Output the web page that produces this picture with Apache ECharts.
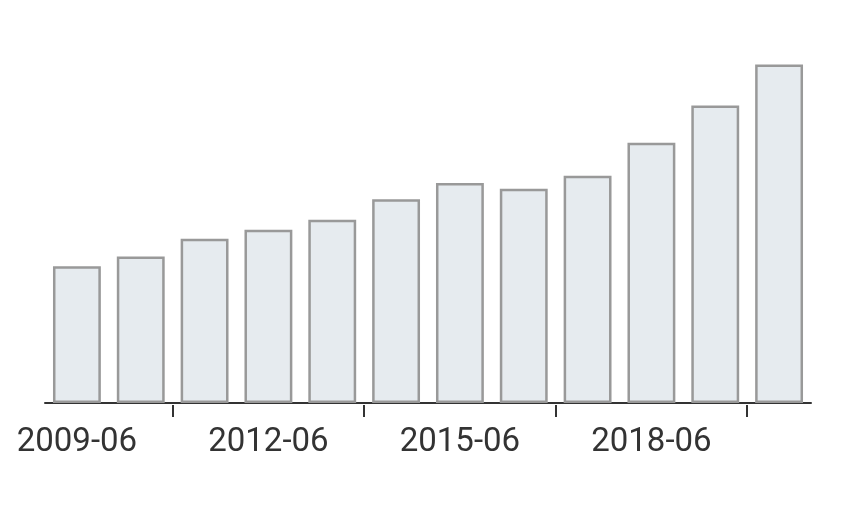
<!DOCTYPE html>
<html><head><meta charset="utf-8">
<script src="https://cdn.jsdelivr.net/npm/echarts@6/dist/echarts.min.js"></script>
<style>html,body{margin:0;padding:0;background:#fff}#c{width:856px;height:505px}</style>
</head><body><div id="c"></div>
<script>
const categories = ['2009-06','2010-06','2011-06','2012-06','2013-06','2014-06','2015-06','2016-06','2017-06','2018-06','2019-06','2020-06'];
const values = [40.4, 43.3, 48.5, 51.2, 54.1, 60.2, 65.0, 63.3, 67.1, 76.9, 87.9, 100];
// boundaries between bars (13 edges), used only for tick placement
const boundaries = ['b0','b1','b2','b3','b4','b5','b6','b7','b8','b9','b10','b11','b12'];

const chart = echarts.init(document.getElementById('c'), null, {renderer:'canvas'});
chart.setOption({
  animation: false,
  grid: {left: 45, right: 45, top: 64.5, bottom: 102, containLabel: false},
  xAxis: [{
    type: 'category', data: categories, offset: 2,
    axisLine: {lineStyle: {color: '#333', width: 2}},
    axisTick: {show: false},
    axisLabel: {interval: 2, color: '#333', fontSize: 33, fontFamily: 'Roboto', margin: 21}
  }, {
    type: 'category', data: boundaries, position: 'bottom', offset: 2, boundaryGap: false,
    axisLine: {show: false},
    axisLabel: {show: false},
    axisTick: {show: true, alignWithLabel: true, length: 12, lineStyle: {color: '#333', width: 2},
      interval: function (i) { return i % 3 === 2; }}
  }],
  yAxis: {type: 'value', min: 0, max: 100, show: false, splitLine: {show: false}},
  series: [{
    type: 'bar', data: values, barCategoryGap: '25%', xAxisIndex: 0,
    itemStyle: {color: '#e6ebef', borderColor: '#999999', borderWidth: 2.5}
  }]
});
</script></body></html>
